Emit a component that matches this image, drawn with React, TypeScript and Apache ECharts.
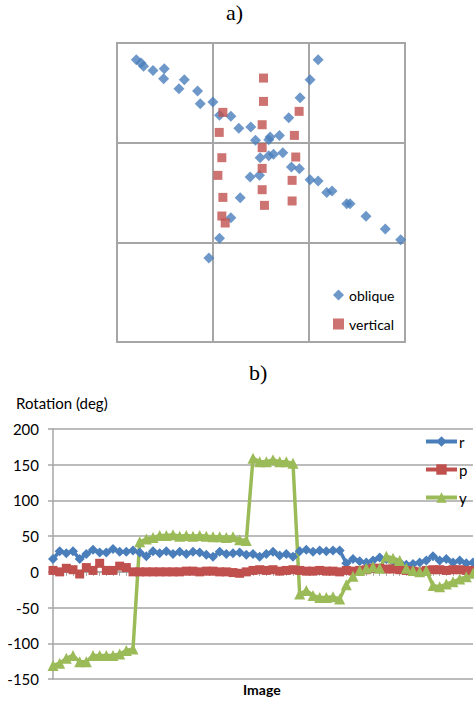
import React, { useEffect, useRef } from "react";
import * as echarts from "echarts";

// ---- chart a) scatter data (x, y in cell units, 3x3 grid) ----
const obliquePoints: [number, number][] = [
  [0.201, 2.832], [0.25, 2.799], [0.277, 2.766], [0.375, 2.725], [0.492, 2.742],
  [0.486, 2.642], [0.701, 2.632], [0.645, 2.541], [0.839, 2.518], [0.867, 2.391],
  [0.999, 2.408], [1.068, 2.274], [1.186, 2.264], [1.269, 2.144], [1.394, 2.157],
  [1.443, 2.023], [1.581, 2.03], [1.595, 2.057], [1.692, 2.073], [1.789, 2.251],
  [1.907, 2.451], [2.011, 2.632], [2.095, 2.832], [1.491, 1.849], [1.581, 1.869],
  [1.63, 1.883], [1.727, 1.899], [1.817, 1.756], [1.9, 1.739], [1.484, 1.672],
  [1.387, 1.655], [1.283, 1.448], [1.186, 1.247], [1.068, 1.04], [0.957, 0.843],
  [2.011, 1.629], [2.095, 1.615], [2.185, 1.501], [2.24, 1.515], [2.393, 1.388],
  [2.428, 1.388], [2.594, 1.261], [2.795, 1.134], [2.955, 1.027],
];
const verticalPoints: [number, number][] = [
  [1.526, 2.648], [1.526, 2.414], [1.512, 2.18], [1.512, 1.95], [1.512, 1.742],
  [1.512, 1.528], [1.536, 1.371], [1.103, 2.304], [1.065, 2.103], [1.092, 1.849],
  [1.051, 1.672], [1.103, 1.451], [1.092, 1.264], [1.127, 1.194], [1.897, 2.314],
  [1.848, 2.073], [1.862, 1.856], [1.824, 1.622], [1.824, 1.415],
];

// ---- chart b) rotation data ----
const images: string[] = Array.from({ length: 64 }, (_, i) => String(i + 1));
const rValues: number[] = [
  18, 29, 26, 29, 18, 25, 31, 27, 27, 32, 28, 28, 30, 27, 22, 29, 26, 29, 25, 28,
  25, 28, 27, 24, 21, 28, 25, 26, 27, 24, 25, 21, 25, 28, 23, 25, 21, 29, 31, 28,
  30, 29, 30, 30, 12, 18, 15, 13, 16, 20, 18, 15, 13, 10, 11, 13, 16, 22, 16, 18,
  13, 16, 12, 13,
];
const pValues: number[] = [
  2, 0, 5, 3, -3, 6, 2, 12, 2, 2, 8, 6, 0, 0, 0, 0, 0, 0, 0, 0,
  1, 1, 0, 1, 1, 0, 0, -1, -2, 0, 2, 3, 2, 3, 1, 2, 3, 2, 1, 1,
  2, 1, 1, 0, 2, 1, 2, 3, 5, 5, 4, 4, 3, 2, 1, 0, 2, 3, 3, 2,
  3, 3, 2, 2,
];
const yValues: number[] = [
  -131, -128, -121, -117, -126, -126, -117, -117, -117, -117, -115, -110, -108, 42, 46, 48, 51, 51, 52, 50,
  51, 50, 51, 50, 49, 49, 48, 49, 45, 44, 159, 154, 154, 157, 154, 154, 152, -31, -26, -33,
  -36, -36, -35, -38, -18, -6, 2, 5, 7, 5, 22, 19, 16, 5, 2, 0, 2, -19, -21, -17,
  -14, -10, -7, -2,
];
const yTicks = { min: -150, max: 200, interval: 50 };

const BLUE = "#4a7ebb";
const RED = "#c0504d";
const GREEN = "#9bbb59";
const GRID = "#a6a6a6";
const SANS = "Lato, 'Open Sans', sans-serif";
const SERIF = "'Liberation Serif', 'DejaVu Serif', serif";

export default function App() {
  const ref = useRef<HTMLDivElement>(null);
  useEffect(() => {
    if (!ref.current) return;
    const chart = echarts.init(ref.current, undefined, { renderer: "svg" });
    chart.setOption({
      animation: false,
      backgroundColor: "#ffffff",
      graphic: [
        { type: "text", left: 226, top: 1, style: { text: "a)", font: `22px ${SERIF}`, fill: "#000" } },
        { type: "text", left: 249, top: 361, style: { text: "b)", font: `22px ${SERIF}`, fill: "#000" } },
        { type: "text", left: 16, top: 395, style: { text: "Rotation (deg)", font: `15px ${SANS}`, fill: "#000" } },
        { type: "text", left: 243, top: 682, style: { text: "Image", font: `bold 14px ${SANS}`, fill: "#000" } },
      ],
      grid: [
        { left: 117, top: 43, width: 288, height: 299, show: true, borderColor: GRID, borderWidth: 2 },
        { left: 53, top: 429, width: 420, height: 250 },
      ],
      legend: [
        {
          data: [
            { name: "oblique", icon: "diamond" },
            { name: "vertical", icon: "rect" },
          ],
          orient: "vertical",
          left: 328,
          top: 283,
          itemWidth: 11,
          itemHeight: 11,
          itemGap: 15,
          textStyle: { fontFamily: SANS, fontSize: 14, color: "#000" },
        },
        {
          data: ["r", "p", "y"],
          orient: "vertical",
          left: 419,
          top: 429,
          itemWidth: 31,
          itemHeight: 13,
          itemGap: 13,
          lineStyle: { width: 4 },
          textStyle: { fontFamily: SANS, fontSize: 15, color: "#000", padding: [0, 0, 0, -3] },
        },
      ],
      xAxis: [
        {
          gridIndex: 0, type: "value", min: 0, max: 3, interval: 1,
          axisLine: { show: false }, axisTick: { show: false }, axisLabel: { show: false },
          splitLine: { show: true, lineStyle: { color: GRID, width: 2 } },
        },
        {
          gridIndex: 1, type: "category", data: images, boundaryGap: false,
          axisLine: { show: true, onZero: true, lineStyle: { color: GRID, width: 1.5 } },
          axisTick: { show: true, interval: 0, length: 4, lineStyle: { color: GRID } },
          axisLabel: { show: false },
          splitLine: { show: false },
        },
      ],
      yAxis: [
        {
          gridIndex: 0, type: "value", min: 0, max: 3, interval: 1,
          axisLine: { show: false }, axisTick: { show: false }, axisLabel: { show: false },
          splitLine: { show: true, lineStyle: { color: GRID, width: 2 } },
        },
        {
          gridIndex: 1, type: "value", min: yTicks.min, max: yTicks.max, interval: yTicks.interval,
          axisLine: { show: true, lineStyle: { color: GRID, width: 1.5 } },
          axisTick: { show: true, length: 5, lineStyle: { color: GRID, width: 1.5 } },
          axisLabel: { color: "#000", fontFamily: SANS, fontSize: 15, margin: 14 },
          splitLine: { show: true, lineStyle: { color: GRID, width: 1.5 } },
        },
      ],
      series: [
        {
          name: "oblique", type: "scatter", xAxisIndex: 0, yAxisIndex: 0,
          data: obliquePoints, symbol: "diamond", symbolSize: 11,
          itemStyle: { color: BLUE },
        },
        {
          name: "vertical", type: "scatter", xAxisIndex: 0, yAxisIndex: 0,
          data: verticalPoints, symbol: "rect", symbolSize: 9,
          itemStyle: { color: RED },
        },
        {
          name: "r", type: "line", xAxisIndex: 1, yAxisIndex: 1, data: rValues,
          symbol: "diamond", symbolSize: 10, showAllSymbol: true,
          lineStyle: { color: BLUE, width: 3.5 }, itemStyle: { color: BLUE },
        },
        {
          name: "p", type: "line", xAxisIndex: 1, yAxisIndex: 1, data: pValues,
          symbol: "rect", symbolSize: 9, showAllSymbol: true,
          lineStyle: { color: RED, width: 3.5 }, itemStyle: { color: RED },
        },
        {
          name: "y", type: "line", xAxisIndex: 1, yAxisIndex: 1, data: yValues,
          symbol: "triangle", symbolSize: 11, showAllSymbol: true,
          lineStyle: { color: GREEN, width: 3.5 }, itemStyle: { color: GREEN },
        },
      ],
    });
    return () => chart.dispose();
  }, []);
  return (
    <div
      ref={ref}
      style={{ position: "fixed", left: 0, top: 0, width: 474, height: 704, background: "#fff" }}
    />
  );
}
